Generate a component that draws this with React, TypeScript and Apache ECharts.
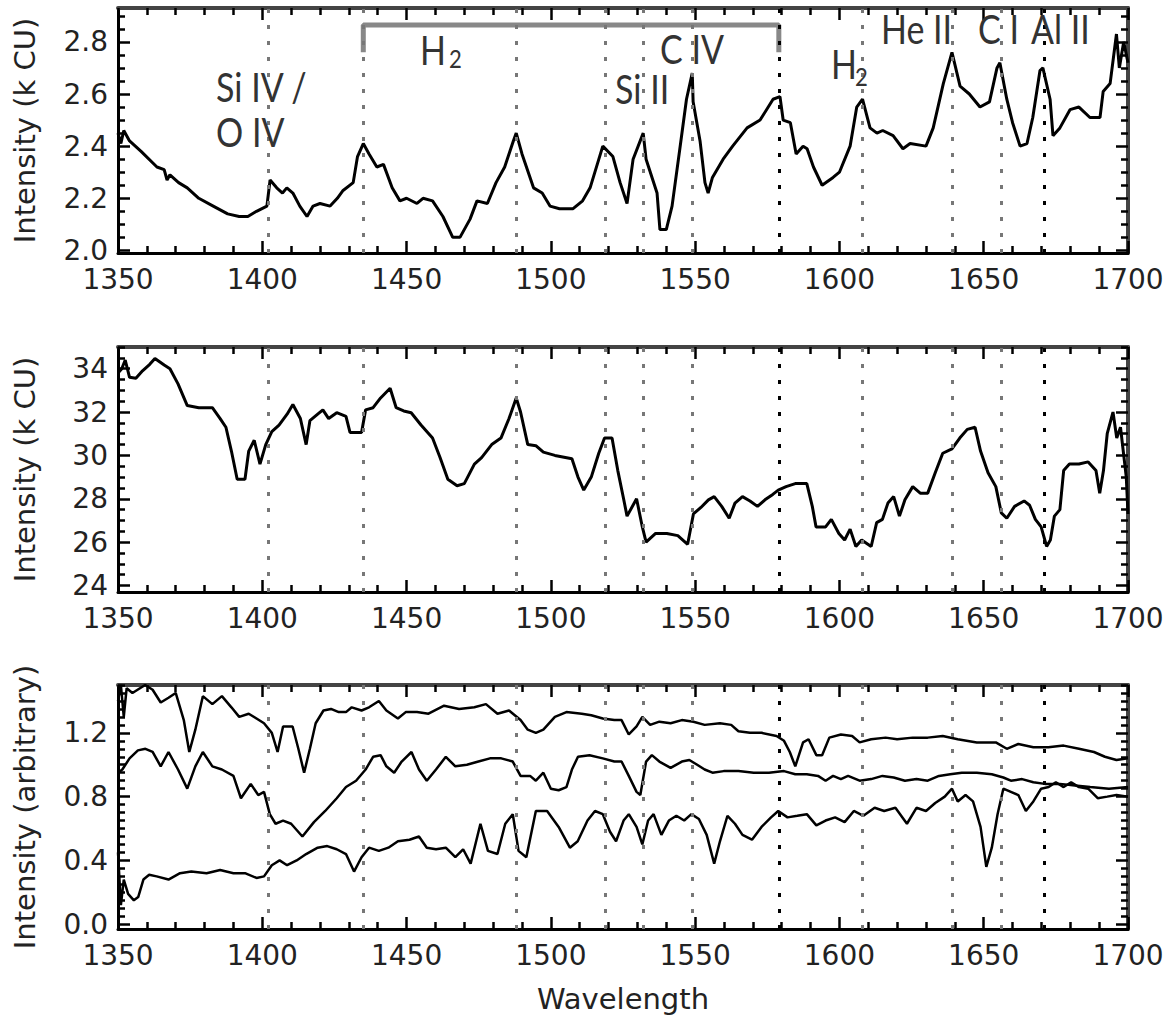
import React, { useEffect, useRef } from "react";
import * as echarts from "echarts";

// ---------------- data ----------------
const X_MIN = 1350;
const X_MAX = 1700;
const X_STEP = 50;

// wavelengths of the dotted reference lines
const LINE_WL = [1402, 1435, 1488, 1519, 1532, 1549, 1579, 1608, 1639, 1656, 1671];
const DARK_LINE_WL = [1579, 1671];

// y tick labels
const TOP_Y_LABELS = [2.0, 2.2, 2.4, 2.6, 2.8];
const MID_Y_LABELS = [24, 26, 28, 30, 32, 34];
const BOT_Y_LABELS = [0.0, 0.4, 0.8, 1.2];

// H2 band bracket (top panel)
const H2_BAND_WL = [1435, 1435, 1579, 1579];
const H2_BAND_Y = [2.76, 2.865, 2.865, 2.76];

// top panel spectrum (k CU)
const TOP_WL = [1350, 1351, 1352, 1354, 1358, 1363.5, 1366, 1367, 1368, 1371, 1374, 1378, 1383, 1388, 1392, 1395, 1398, 1401.6, 1402.7, 1405, 1407, 1408.5, 1410.6, 1413, 1415.5, 1417.6, 1420, 1423.5, 1426, 1428, 1431.5, 1433, 1435, 1437, 1439.7, 1442, 1445, 1447.7, 1450, 1453.6, 1455.7, 1459, 1462.6, 1466, 1468.5, 1472, 1474.4, 1478, 1481, 1484, 1487, 1488, 1490, 1494, 1497, 1499.7, 1503, 1507.7, 1511, 1513.6, 1518, 1521.5, 1524, 1526.4, 1528.5, 1532, 1533, 1536.8, 1537.8, 1540, 1542, 1544.7, 1547, 1549, 1549.3, 1551.7, 1553.4, 1554.5, 1556, 1559.7, 1563, 1568, 1572.5, 1577, 1579.4, 1580.5, 1583, 1585, 1587.4, 1588.8, 1591, 1594, 1597.8, 1600, 1603.7, 1606, 1608, 1610.6, 1613, 1615, 1618.6, 1622, 1624.5, 1630, 1632.5, 1636, 1639, 1641.8, 1645, 1648.7, 1652, 1654.6, 1655.6, 1658, 1660, 1662.6, 1665, 1667, 1669.5, 1670.5, 1673, 1674, 1676.4, 1679.9, 1683, 1686.8, 1690.3, 1691.4, 1693.8, 1696, 1697, 1698.5, 1700];
const TOP_I = [2.45, 2.41, 2.46, 2.42, 2.38, 2.32, 2.31, 2.27, 2.29, 2.26, 2.24, 2.20, 2.17, 2.14, 2.13, 2.13, 2.15, 2.17, 2.27, 2.24, 2.22, 2.24, 2.22, 2.17, 2.13, 2.17, 2.18, 2.17, 2.20, 2.23, 2.26, 2.36, 2.41, 2.37, 2.32, 2.33, 2.24, 2.19, 2.20, 2.18, 2.20, 2.19, 2.13, 2.05, 2.05, 2.12, 2.19, 2.18, 2.26, 2.32, 2.42, 2.45, 2.37, 2.24, 2.22, 2.17, 2.16, 2.16, 2.19, 2.24, 2.40, 2.36, 2.26, 2.18, 2.35, 2.45, 2.35, 2.22, 2.08, 2.08, 2.17, 2.39, 2.58, 2.68, 2.57, 2.42, 2.26, 2.22, 2.28, 2.35, 2.40, 2.47, 2.50, 2.58, 2.59, 2.50, 2.49, 2.37, 2.40, 2.39, 2.32, 2.25, 2.28, 2.30, 2.40, 2.55, 2.58, 2.47, 2.45, 2.46, 2.44, 2.39, 2.41, 2.40, 2.47, 2.64, 2.76, 2.63, 2.60, 2.55, 2.57, 2.70, 2.72, 2.58, 2.49, 2.40, 2.41, 2.51, 2.69, 2.70, 2.58, 2.44, 2.47, 2.54, 2.55, 2.51, 2.51, 2.61, 2.64, 2.83, 2.70, 2.80, 2.72];

// middle panel spectrum (k CU)
const MID_WL = [1350, 1351.3, 1352.5, 1354, 1356.2, 1358.5, 1361, 1362.8, 1366, 1368, 1370.8, 1374, 1378, 1382.7, 1385.4, 1387.4, 1389.3, 1391.3, 1394, 1395.3, 1397.2, 1399.2, 1401.2, 1403.3, 1405.8, 1408.6, 1410.6, 1413.2, 1415.2, 1416.5, 1419.2, 1421, 1423, 1425.8, 1429, 1430.4, 1434.4, 1435.8, 1438.4, 1441, 1444.3, 1446.4, 1449, 1451.6, 1455, 1459, 1461.6, 1464.3, 1467.5, 1470, 1473.5, 1476, 1479.5, 1482.7, 1485.5, 1488, 1489.5, 1492, 1494.8, 1497.4, 1501.4, 1507.3, 1509.4, 1511.4, 1514, 1516.6, 1518.6, 1521.2, 1523.2, 1525.2, 1526.4, 1529.7, 1531.7, 1533, 1536.3, 1540.2, 1544, 1547.4, 1549.4, 1552, 1554.6, 1556.6, 1559.2, 1561.8, 1563.8, 1566.4, 1569, 1571.6, 1574.2, 1576.9, 1578.8, 1581.5, 1584.7, 1588.7, 1590.6, 1591.9, 1595.2, 1597.2, 1599.8, 1601.8, 1603.7, 1605.7, 1607.7, 1611, 1612.9, 1614.9, 1616.8, 1618.8, 1620.8, 1622.7, 1625.4, 1628, 1630.6, 1633.2, 1635.8, 1639, 1641.7, 1644.3, 1647, 1648.9, 1651.5, 1654.2, 1656.1, 1658, 1660.7, 1664, 1665.9, 1667.9, 1669.9, 1671.8, 1673.1, 1674.5, 1676.4, 1677.7, 1679.7, 1683, 1686.2, 1688.9, 1690.2, 1691.5, 1692.8, 1694.8, 1696.1, 1697.4, 1699.4, 1700];
const MID_I = [33.8, 34.0, 34.4, 33.6, 33.56, 33.9, 34.2, 34.47, 34.17, 34.0, 33.3, 32.3, 32.2, 32.2, 31.7, 31.3, 30.2, 28.9, 28.9, 30.2, 30.7, 29.6, 30.5, 31.1, 31.4, 31.9, 32.35, 31.7, 30.5, 31.6, 31.9, 32.1, 31.7, 31.97, 31.8, 31.06, 31.06, 32.1, 32.2, 32.65, 33.1, 32.2, 32.05, 31.97, 31.4, 30.8, 29.9, 28.9, 28.6, 28.7, 29.6, 29.9, 30.5, 30.8, 31.7, 32.65, 32.0, 30.5, 30.45, 30.15, 30.0, 29.85, 29.0, 28.4, 29.0, 30.1, 30.8, 30.8, 29.3, 28.0, 27.2, 28.0, 26.7, 26.0, 26.4, 26.4, 26.3, 25.9, 27.3, 27.6, 27.95, 28.1, 27.65, 27.1, 27.8, 28.1, 27.9, 27.65, 27.95, 28.2, 28.4, 28.56, 28.7, 28.7, 27.65, 26.7, 26.7, 27.05, 26.4, 26.1, 26.6, 25.8, 26.1, 25.8, 26.9, 27.05, 27.8, 28.1, 27.2, 27.95, 28.56, 28.26, 28.26, 29.2, 30.1, 30.3, 30.8, 31.2, 31.3, 30.2, 29.2, 28.56, 27.35, 27.1, 27.65, 27.9, 27.7, 27.05, 26.7, 25.8, 26.1, 27.2, 27.5, 29.3, 29.6, 29.6, 29.7, 29.3, 28.26, 29.3, 31.0, 32.0, 30.8, 31.3, 29.0, 27.3];

// bottom panel spectra (arbitrary units)
const BOT_A_WL = [1350, 1351, 1352, 1353, 1355, 1359.4, 1362, 1364.8, 1367.5, 1370, 1372.8, 1374.7, 1376.8, 1379.4, 1382.7, 1386, 1389.3, 1392, 1395.3, 1398, 1400.6, 1403.3, 1405.3, 1407.2, 1410.5, 1412.5, 1414.5, 1416.5, 1418.5, 1421.2, 1423.8, 1426.5, 1429, 1431, 1434.4, 1437, 1440.4, 1443, 1447, 1449.7, 1453.6, 1457.6, 1463, 1468.2, 1473.5, 1477.5, 1481.5, 1485.5, 1489.5, 1492, 1494.8, 1497.4, 1501.4, 1505.4, 1510.7, 1514, 1518, 1522, 1524.5, 1527, 1529.7, 1531.7, 1534.4, 1537.6, 1541.5, 1545.4, 1549.4, 1553.3, 1558.6, 1562.5, 1565, 1569, 1573, 1578.2, 1580.8, 1582.8, 1584.7, 1587.4, 1589.3, 1592, 1594, 1596.5, 1600.5, 1604.4, 1607, 1611, 1616, 1620, 1625.4, 1630.6, 1635.8, 1641, 1647.6, 1654.2, 1658, 1662, 1667.2, 1672.4, 1677.7, 1683, 1688.2, 1692, 1696, 1700];
const BOT_A = [1.40, 1.50, 1.30, 1.48, 1.45, 1.50, 1.47, 1.39, 1.42, 1.45, 1.28, 1.08, 1.22, 1.43, 1.38, 1.43, 1.36, 1.30, 1.32, 1.29, 1.26, 1.20, 1.08, 1.24, 1.24, 1.10, 0.95, 1.10, 1.26, 1.34, 1.35, 1.33, 1.33, 1.36, 1.34, 1.36, 1.40, 1.34, 1.29, 1.33, 1.33, 1.32, 1.37, 1.35, 1.36, 1.38, 1.32, 1.34, 1.28, 1.22, 1.20, 1.22, 1.30, 1.33, 1.32, 1.31, 1.29, 1.28, 1.28, 1.19, 1.24, 1.30, 1.25, 1.27, 1.26, 1.28, 1.27, 1.25, 1.26, 1.25, 1.21, 1.20, 1.20, 1.18, 1.15, 1.08, 0.99, 1.14, 1.16, 1.06, 1.06, 1.17, 1.19, 1.18, 1.14, 1.16, 1.17, 1.16, 1.17, 1.17, 1.18, 1.16, 1.14, 1.14, 1.10, 1.13, 1.11, 1.11, 1.12, 1.10, 1.08, 1.05, 1.03, 1.04];

const BOT_B_WL = [1350, 1351.5, 1354, 1356.9, 1359.5, 1362, 1364.8, 1367.5, 1370.8, 1374, 1376.8, 1379.4, 1382.7, 1386, 1390, 1392.6, 1396, 1398.6, 1400.6, 1402.6, 1404.6, 1407.2, 1410, 1413.9, 1417.9, 1421.8, 1425.8, 1429, 1432.5, 1435.8, 1438.4, 1441, 1443, 1445.7, 1448.3, 1451.7, 1454.3, 1457, 1460.2, 1463.6, 1466.9, 1470.9, 1474.9, 1478.9, 1482.8, 1486.8, 1489.5, 1492.8, 1494.8, 1497.4, 1500, 1502.7, 1505.4, 1507.3, 1509.4, 1513.4, 1518, 1522, 1524.5, 1527, 1529.7, 1531, 1533, 1535, 1537.6, 1541.5, 1545.4, 1548, 1550.7, 1553.3, 1556, 1559.9, 1565, 1570.3, 1575.6, 1580.8, 1584.7, 1588.7, 1592.6, 1595.2, 1597.8, 1600.5, 1603, 1607, 1611, 1614.9, 1618.8, 1622.7, 1626.7, 1630.6, 1634.5, 1638.4, 1642.4, 1647.6, 1652.8, 1656.8, 1659.4, 1663.3, 1667.2, 1671.2, 1676.4, 1681.6, 1686.9, 1693.4, 1700];
const BOT_B = [0.95, 0.97, 1.04, 1.09, 1.10, 1.08, 0.99, 1.08, 0.97, 0.85, 0.99, 1.08, 0.99, 0.97, 0.93, 0.79, 0.88, 0.81, 0.83, 0.69, 0.63, 0.65, 0.63, 0.55, 0.64, 0.71, 0.79, 0.86, 0.90, 0.97, 1.05, 1.06, 0.99, 0.95, 1.02, 1.08, 0.97, 0.90, 0.97, 1.05, 0.99, 1.00, 1.02, 1.04, 1.04, 1.02, 0.93, 0.93, 0.90, 0.95, 0.85, 0.84, 0.86, 0.97, 1.05, 1.06, 1.04, 1.02, 1.02, 0.93, 0.83, 0.81, 1.02, 1.06, 1.02, 0.98, 1.02, 1.03, 1.00, 0.97, 0.95, 0.96, 0.96, 0.95, 0.95, 0.96, 0.94, 0.94, 0.93, 0.90, 0.93, 0.91, 0.93, 0.90, 0.91, 0.93, 0.92, 0.90, 0.91, 0.90, 0.93, 0.94, 0.95, 0.95, 0.94, 0.92, 0.90, 0.91, 0.89, 0.88, 0.88, 0.87, 0.86, 0.85, 0.86];

const BOT_C_WL = [1350, 1351, 1352, 1353.5, 1355.5, 1357, 1358.8, 1360.8, 1363.4, 1367.5, 1371.5, 1375.4, 1380.7, 1385.4, 1390, 1394, 1398, 1400.6, 1403.3, 1406, 1408.6, 1411.9, 1415.2, 1419.2, 1422.5, 1425.8, 1429, 1431.8, 1434.4, 1437, 1440.4, 1443.7, 1447, 1451, 1454.3, 1457, 1460.2, 1463.6, 1466.9, 1469.6, 1472.2, 1475.6, 1478.2, 1481.5, 1484.2, 1486.8, 1488.8, 1491.5, 1494.8, 1498.7, 1502.7, 1506.6, 1509.3, 1512.7, 1515.3, 1518, 1520.5, 1522.6, 1525.2, 1527, 1529.7, 1531.7, 1533.7, 1535.6, 1538.3, 1540.9, 1543.5, 1546.2, 1548.7, 1551.3, 1554, 1556.6, 1558.6, 1561.2, 1563.8, 1566.4, 1569.7, 1573, 1576.3, 1578.8, 1582, 1585.4, 1588.7, 1592, 1595.2, 1598.5, 1601.8, 1605, 1608.3, 1612.2, 1615.5, 1619.4, 1623.4, 1626.7, 1630, 1633.2, 1636.5, 1639, 1641, 1643.7, 1646.3, 1648.9, 1650.9, 1652.8, 1654.8, 1656.8, 1659.4, 1662, 1664.6, 1667.2, 1669.9, 1672.5, 1675, 1677.7, 1680.3, 1683, 1686.2, 1689.5, 1692.8, 1696, 1700];
const BOT_C = [0.45, 0.12, 0.28, 0.19, 0.15, 0.17, 0.28, 0.31, 0.30, 0.28, 0.32, 0.33, 0.32, 0.34, 0.32, 0.32, 0.29, 0.30, 0.37, 0.40, 0.37, 0.40, 0.44, 0.48, 0.49, 0.47, 0.44, 0.33, 0.42, 0.48, 0.46, 0.48, 0.52, 0.53, 0.55, 0.48, 0.47, 0.48, 0.42, 0.47, 0.38, 0.63, 0.46, 0.44, 0.63, 0.69, 0.46, 0.42, 0.71, 0.71, 0.61, 0.48, 0.52, 0.65, 0.71, 0.69, 0.58, 0.52, 0.65, 0.69, 0.61, 0.50, 0.65, 0.69, 0.56, 0.65, 0.68, 0.65, 0.69, 0.66, 0.56, 0.38, 0.52, 0.68, 0.63, 0.56, 0.53, 0.61, 0.67, 0.71, 0.67, 0.68, 0.69, 0.62, 0.65, 0.67, 0.64, 0.71, 0.68, 0.73, 0.71, 0.73, 0.63, 0.73, 0.71, 0.76, 0.80, 0.85, 0.77, 0.81, 0.77, 0.61, 0.36, 0.48, 0.69, 0.85, 0.83, 0.81, 0.71, 0.77, 0.85, 0.86, 0.89, 0.86, 0.89, 0.86, 0.85, 0.79, 0.80, 0.81, 0.80];

// ---------------- helpers ----------------
const FONT = "DejaVu Sans";
const LABEL_FONT = "Lato";

const zip = (xs: number[], ys: number[]) => xs.map((x, i) => [x, ys[i]]);

function minorValues(min: number, max: number, step: number, majors: number[]) {
  const out: number[] = [];
  const n0 = Math.ceil(min / step - 1e-9);
  const n1 = Math.floor(max / step + 1e-9);
  for (let n = n0; n <= n1; n++) {
    const v = +(n * step).toFixed(4);
    if (!majors.some((m) => Math.abs(m - v) < 1e-6)) out.push(v);
  }
  return out;
}

const PANELS = [
  { top: 8, height: 245, min: 1.99, max: 2.93, labels: TOP_Y_LABELS, minorStep: 0.05, digits: 1, name: "Intensity (k CU)", xName: "" },
  { top: 347, height: 245, min: 23.7, max: 35, labels: MID_Y_LABELS, minorStep: 0.5, digits: 0, name: "Intensity (k CU)", xName: "" },
  { top: 685, height: 244, min: -0.03, max: 1.5, labels: BOT_Y_LABELS, minorStep: 0.05, digits: 1, name: "Intensity (arbitrary)", xName: "Wavelength" },
];

const tickStyle = () => ({ color: "#000", width: 2.5 });

function buildOption() {
  const grid: any[] = [];
  const xAxis: any[] = [];
  const yAxis: any[] = [];

  PANELS.forEach((p, gi) => {
    grid.push({ left: 118, top: p.top, width: 1010, height: p.height });
    const xBase = () => ({
      type: "value",
      gridIndex: gi,
      min: X_MIN,
      max: X_MAX,
      interval: X_STEP,
      splitLine: { show: false },
      minorSplitLine: { show: false },
      axisTick: { show: true, inside: true, length: 12, lineStyle: tickStyle() },
      minorTick: { show: true, splitNumber: 5, length: 7, lineStyle: tickStyle() },
    });
    xAxis.push({
      ...xBase(),
      position: "bottom",
      axisLine: { show: true, onZero: false, lineStyle: { color: "#000", width: 3 } },
      axisLabel: {
        show: true,
        margin: 12,
        fontSize: 28,
        fontFamily: FONT,
        color: "#222",
        formatter: (v: number) => String(v),
      },
      name: p.xName,
      nameLocation: "middle",
      nameGap: 55,
      nameTextStyle: { fontSize: 29, fontFamily: FONT, color: "#222" },
    });
    xAxis.push({
      ...xBase(),
      position: "top",
      axisLine: { show: true, onZero: false, lineStyle: { color: "#444", width: 4 } },
      axisLabel: { show: false },
    });

    const minors = minorValues(p.min, p.max, p.minorStep, p.labels);
    const yBase = () => ({ type: "value", gridIndex: gi, min: p.min, max: p.max, splitLine: { show: false } });
    yAxis.push({
      ...yBase(),
      position: "left",
      axisLine: { show: true, onZero: false, lineStyle: { color: "#000", width: 3 } },
      axisTick: { show: true, inside: true, length: 12, customValues: p.labels, lineStyle: tickStyle() },
      axisLabel: {
        show: true,
        customValues: p.labels,
        margin: 10,
        fontSize: 28,
        fontFamily: FONT,
        color: "#222",
        formatter: (v: number) => v.toFixed(p.digits),
      },
      name: p.name,
      nameLocation: "middle",
      nameGap: 79,
      nameTextStyle: { fontSize: 29, fontFamily: FONT, color: "#222" },
    });
    yAxis.push({
      ...yBase(),
      position: "left",
      axisLine: { show: false },
      axisTick: { show: true, inside: true, length: 7, customValues: minors, lineStyle: tickStyle() },
      axisLabel: { show: false },
    });
    yAxis.push({
      ...yBase(),
      position: "right",
      axisLine: { show: true, onZero: false, lineStyle: { color: "#444", width: 4 } },
      axisTick: { show: true, inside: true, length: 12, customValues: p.labels, lineStyle: tickStyle() },
      axisLabel: { show: false },
    });
    yAxis.push({
      ...yBase(),
      position: "right",
      axisLine: { show: false },
      axisTick: { show: true, inside: true, length: 7, customValues: minors, lineStyle: tickStyle() },
      axisLabel: { show: false },
    });
  });

  const vLines = () => ({
    silent: true,
    symbol: ["none", "none"],
    label: { show: false },
    animation: false,
    lineStyle: { type: [4, 12], width: 3, color: "#777" },
    data: LINE_WL.map((w) => ({
      xAxis: w,
      lineStyle: { color: DARK_LINE_WL.includes(w) ? "#000" : "#777", type: [4, 12], width: 3 },
    })),
  });

  const lineSeries = (xi: number, yi: number, data: number[][], width: number, withLines: boolean) => ({
    type: "line",
    xAxisIndex: xi,
    yAxisIndex: yi,
    data,
    symbol: "none",
    showSymbol: false,
    lineStyle: { color: "#000", width },
    z: 3,
    ...(withLines ? { markLine: vLines() } : {}),
  });

  const series: any[] = [
    lineSeries(0, 0, zip(TOP_WL, TOP_I), 3, true),
    {
      type: "line",
      xAxisIndex: 0,
      yAxisIndex: 0,
      data: zip(H2_BAND_WL, H2_BAND_Y),
      symbol: "none",
      lineStyle: { color: "#888", width: 5 },
      z: 2,
    },
    lineSeries(2, 4, zip(MID_WL, MID_I), 3, true),
    lineSeries(4, 8, zip(BOT_A_WL, BOT_A), 2.5, true),
    lineSeries(4, 8, zip(BOT_B_WL, BOT_B), 2.5, false),
    lineSeries(4, 8, zip(BOT_C_WL, BOT_C), 2.5, false),
  ];

  const txt = (text: string, x: number, y: number, size = 40) => ({
    type: "text",
    x,
    y,
    scaleX: 0.85,
    z: 10,
    style: {
      text,
      fontSize: size,
      fontFamily: LABEL_FONT,
      fill: "#333",
      align: "left",
      verticalAlign: "middle",
    },
  });

  const graphic = [
    txt("Si IV /", 216, 86),
    txt("O IV", 216, 131),
    txt("H", 420, 49),
    txt("2", 449, 58, 26),
    txt("Si II", 615, 88),
    txt("C IV", 660, 48),
    txt("H", 831, 63),
    txt("2", 855, 76, 26),
    txt("He II", 881, 28),
    txt("C I", 978, 28),
    txt("Al II", 1031, 28),
  ];

  return {
    animation: false,
    backgroundColor: "#fff",
    grid,
    xAxis,
    yAxis,
    series,
    graphic,
  };
}

export default function App() {
  const ref = useRef<HTMLDivElement>(null);
  useEffect(() => {
    document.body.style.margin = "0";
    const chart = echarts.init(ref.current!, null, { renderer: "svg" });
    chart.setOption(buildOption() as any);
    return () => chart.dispose();
  }, []);
  return <div ref={ref} style={{ width: 1171, height: 1019 }} />;
}
